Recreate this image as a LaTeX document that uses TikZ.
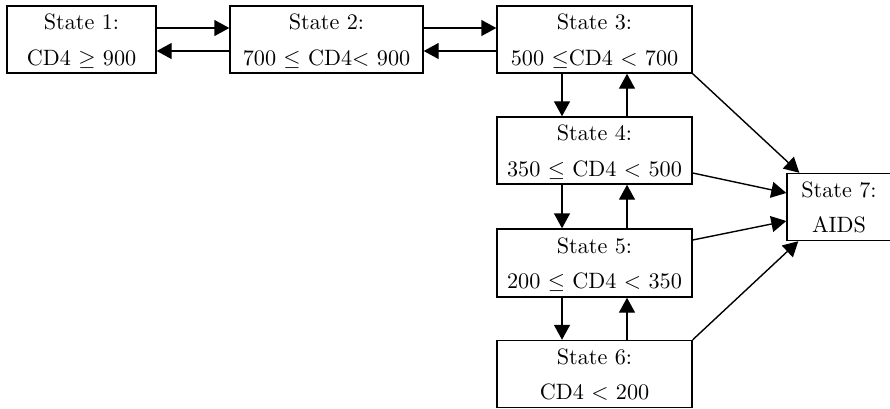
\documentclass[tikz,border=0pt]{standalone}
\usepackage{graphicx}
\usetikzlibrary{arrows.meta}
\newcommand\stlab[2]{\scalebox{2.22}{\begin{tabular}{@{}c@{}}\rule{0pt}{10.8pt}#1\\[3.8pt]#2\end{tabular}}}
\begin{document}
\begin{tikzpicture}[x=1pt,y=-1pt,
  statebox/.style={draw,line width=1.4pt,align=center,inner sep=0pt,
    minimum height=67pt},
  conn/.style={line width=1.4pt,-{Triangle[length=15pt,width=16pt]}}]
\useasboundingbox (0,0) rectangle (890,408);
\node[statebox,minimum width=149pt] (s1) at (81.5,39.5) {\stlab{State 1:}{CD4 $\geq$ 900}};
\node[statebox,minimum width=193pt] (s2) at (326.5,39.5) {\stlab{State 2:}{700 $\leq$ CD4$<$ 900}};
\node[statebox,minimum width=195pt] (s3) at (594.5,39.5) {\stlab{State 3:}{500 $\leq$CD4 $<$ 700}};
\node[statebox,minimum width=195pt] (s4) at (594.5,150.5) {\stlab{State 4:}{350 $\leq$ CD4 $<$ 500}};
\node[statebox,minimum width=195pt,minimum height=68pt] (s5) at (594.5,263) {\stlab{State 5:}{200 $\leq$ CD4 $<$ 350}};
\node[statebox,minimum width=195pt] (s6) at (594.5,374) {\stlab{State 6:}{CD4 $<$ 200}};
\node[statebox,minimum width=104pt,minimum height=66pt] (s7) at (839,207) {\stlab{State 7:}{AIDS}};
% horizontal
\draw[conn] ([yshift=11.5pt]s1.east) -- ([yshift=11.5pt]s2.west);
\draw[conn] ([yshift=-11.5pt]s2.west) -- ([yshift=-11.5pt]s1.east);
\draw[conn] ([yshift=11.5pt]s2.east) -- ([yshift=11.5pt]s3.west);
\draw[conn] ([yshift=-11.5pt]s3.west) -- ([yshift=-11.5pt]s2.east);
% vertical
\draw[conn] ([xshift=-32.5pt]s3.south) -- ([xshift=-32.5pt]s4.north);
\draw[conn] ([xshift=32.5pt]s4.north) -- ([xshift=32.5pt]s3.south);
\draw[conn] ([xshift=-32.5pt]s4.south) -- ([xshift=-32.5pt]s5.north);
\draw[conn] ([xshift=32.5pt]s5.north) -- ([xshift=32.5pt]s4.south);
\draw[conn] ([xshift=-32.5pt]s5.south) -- ([xshift=-32.5pt]s6.north);
\draw[conn] ([xshift=32.5pt]s6.north) -- ([xshift=32.5pt]s5.south);
% to AIDS
\draw[conn] (s3.south east) -- ([xshift=13pt]s7.north west);
\draw[conn] ([yshift=-22.5pt]s4.east) -- ([yshift=14pt]s7.west);
\draw[conn] ([yshift=23pt]s5.east) -- ([yshift=-14pt]s7.west);
\draw[conn] (s6.north east) -- ([xshift=12pt]s7.south west);
\end{tikzpicture}
\end{document}
